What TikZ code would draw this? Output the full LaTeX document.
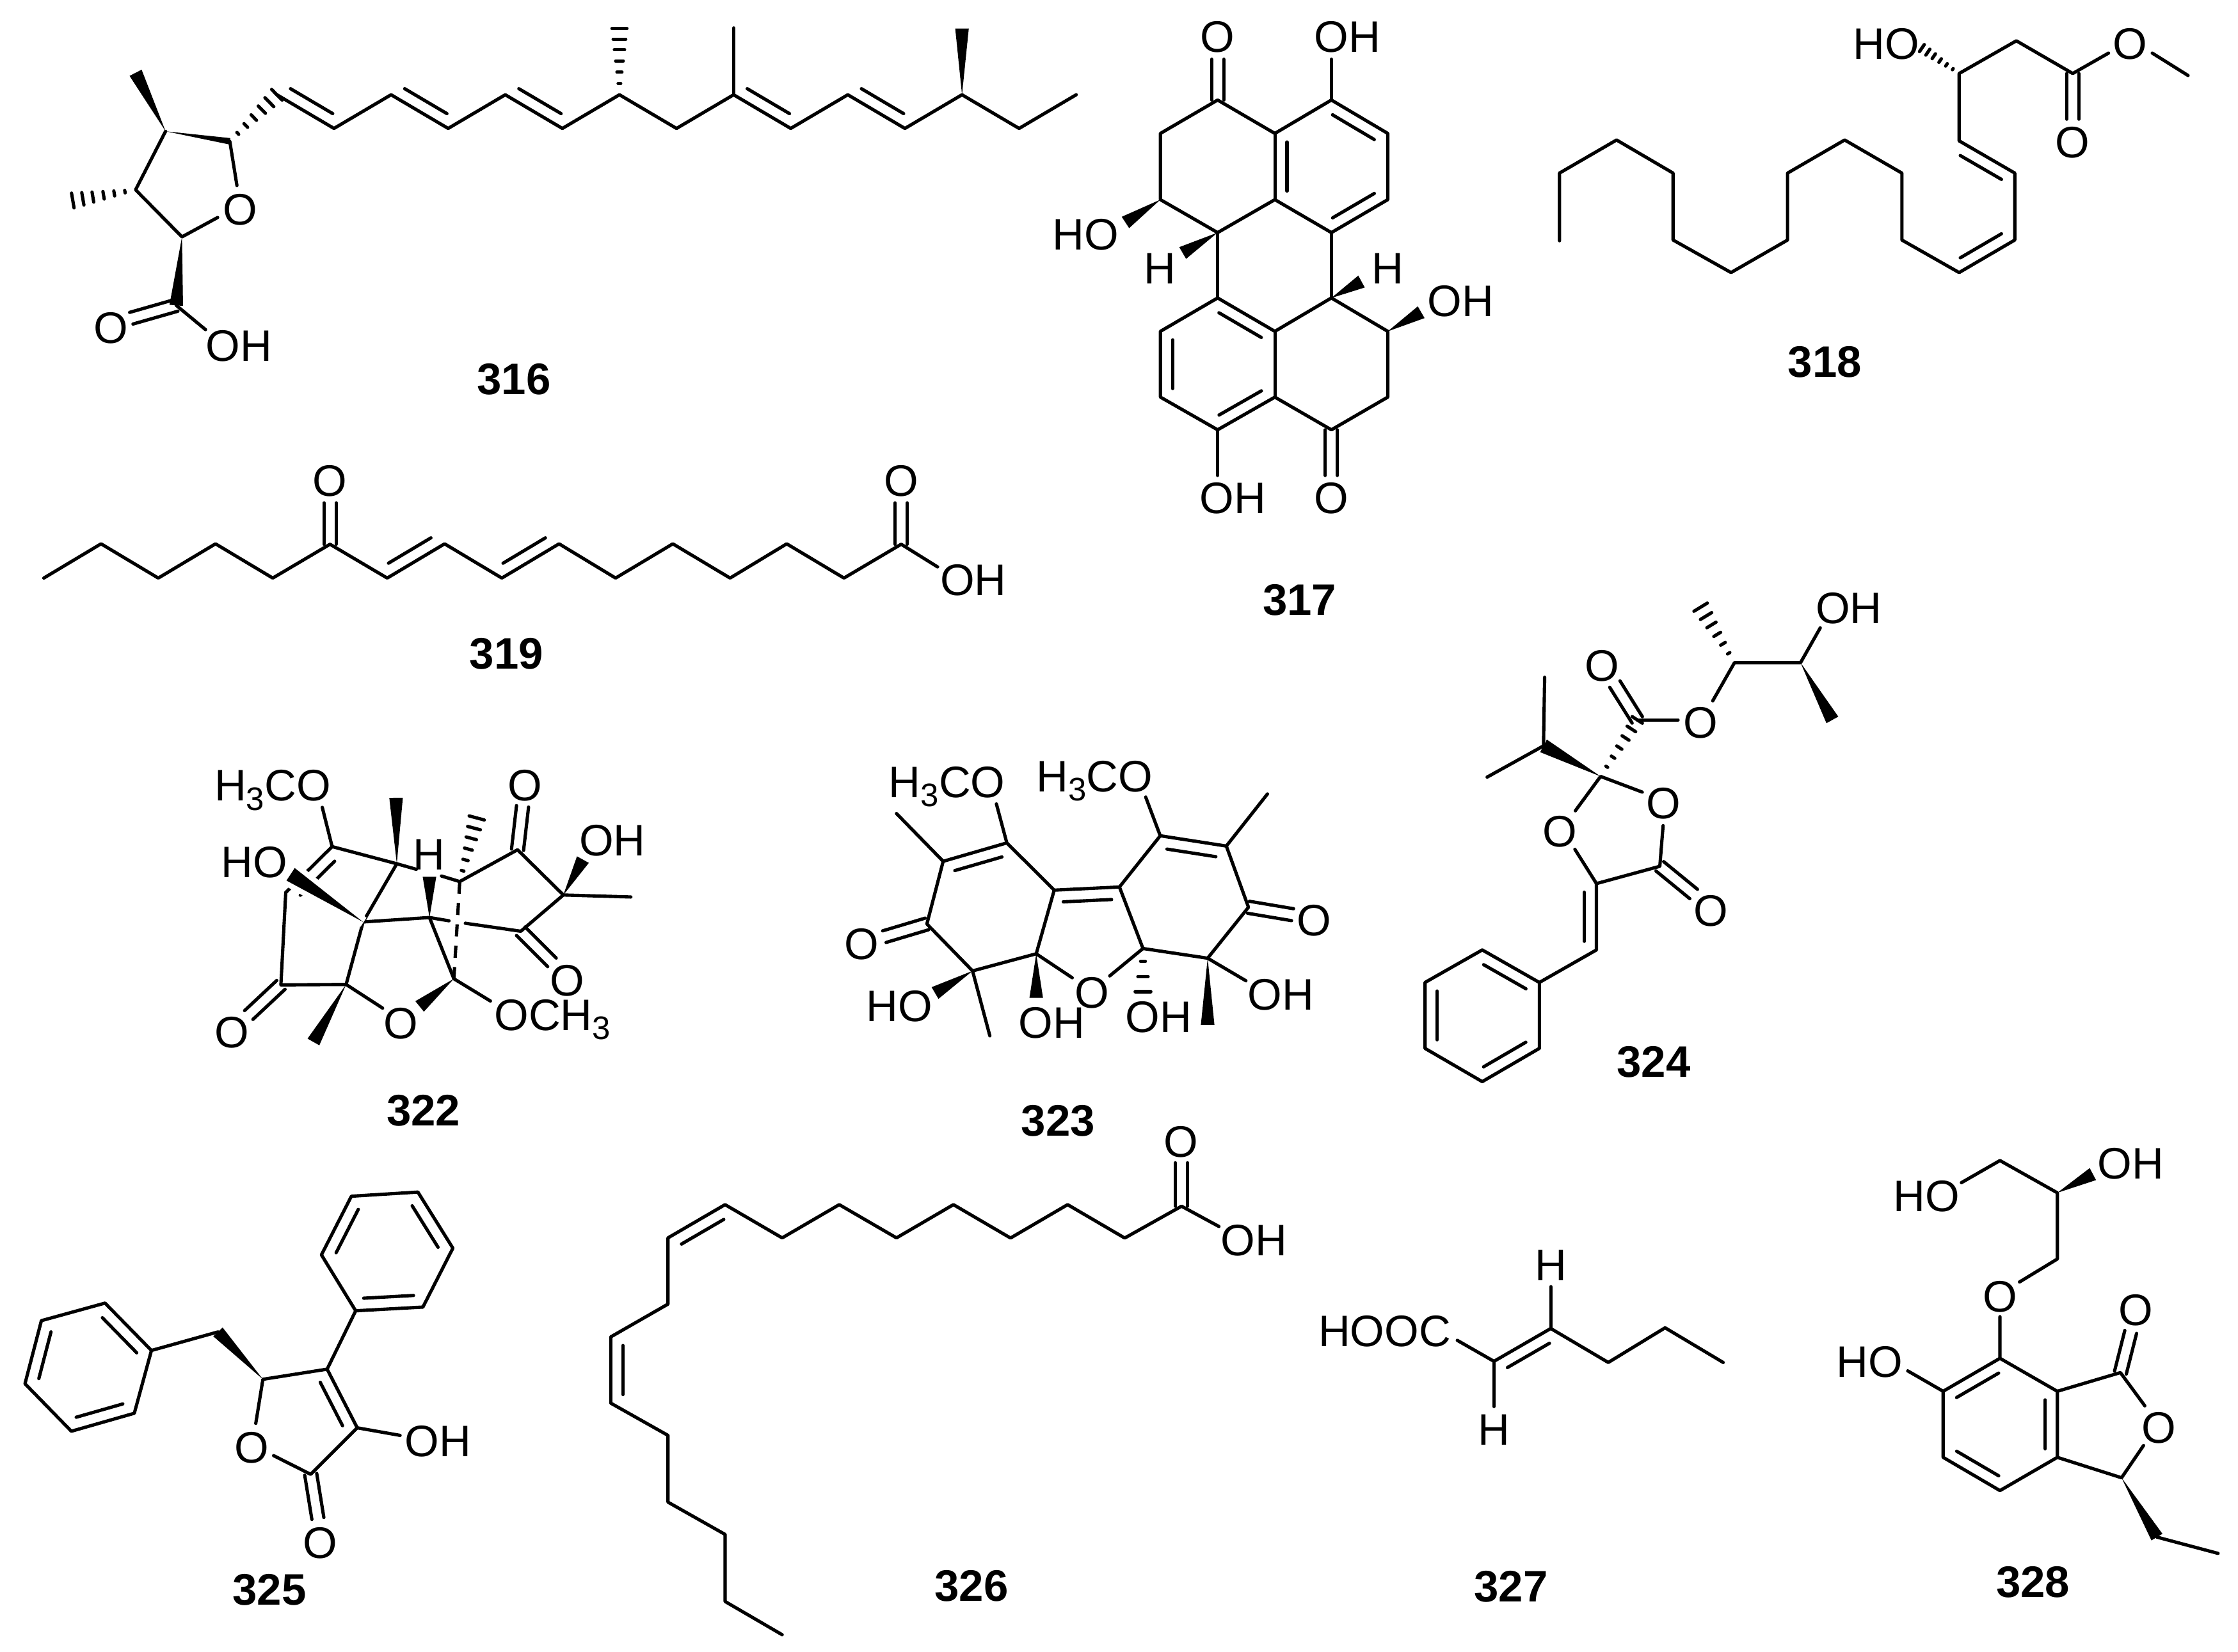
\documentclass[tikz,border=0pt]{standalone}
\usepackage{fontspec}
\setmainfont{Liberation Sans}
\usetikzlibrary{calc}

\tikzset{
  bond/.style={line width=.46mm,line cap=round,line join=round},
  atom/.style={inner sep=0pt,anchor=base,yshift=-2.3mm,font=\fontsize{17.6}{20}\selectfont},
  number/.style={atom,font=\fontsize{17.6}{20}\selectfont\bfseries}
}
\newcommand{\low}[1]{\raisebox{-1.27mm}{\fontsize{13}{13}\selectfont #1}}
\newcommand{\hashsteps}{.17,.34,.51,.68,.84,1}
% inner line of a double bond, on the left of the way from #2 to #3
\newcommand{\dblbond}[3][1.7mm]{\draw[bond] ($(#2)!.13!(#3)!#1!90:(#3)$) -- ($(#2)!.87!(#3)!#1!90:(#3)$);}
% two lines either side of the axis
\newcommand{\cobond}[3][.85mm]{
  \draw[bond] ($(#2)!#1!90:(#3)$) -- ($(#3)!#1!-90:(#2)$);
  \draw[bond] ($(#2)!#1!-90:(#3)$) -- ($(#3)!#1!90:(#2)$);}
\newcommand{\wedgebond}[3][.95mm]{\fill (#2) -- ($(#3)!#1!90:(#2)$) -- ($(#3)!#1!-90:(#2)$) -- cycle;}
\newcommand{\cutwedge}[3][1.05mm]{\fill[preaction={draw=white,line width=1.5mm}] (#2) -- ($(#3)!#1!90:(#2)$) -- ($(#3)!#1!-90:(#2)$) -- cycle;}
\newcommand{\hashbond}[3][1.05mm]{\foreach \t in \hashsteps {\draw[bond] ($(#2)!\t!(#3)!\t*#1!90:(#2)$) -- ($(#2)!\t!(#3)!\t*#1!-90:(#2)$);}}

\begin{document}
\begin{tikzpicture}[x=.2mm,y=-.2mm]
  \useasboundingbox (0,0) rectangle (1568,1157.3);

  % 316
  \foreach \n/\x/\y in {A1/116/92,A2/161/99,A3/166/130,A4/152.5/152.4,A5/127.5/166,A6/95/133,A7/95/51,A8/51/140.5,
    A10/194/66.4,A11/234/90,A12/274/66.4,A13/314/90,A14/354/66.4,A15/394/90,A16/434/66.4,A17/474/90,A18/514/66.4,
    A19/554/90,A20/594/66.4,A21/634/90,A22/674/66.4,A23/714/90,A24/754/66.4,A25/434/20,A26/514/19.6,A27/674/20,
    A29/123.5/214,A30/92/223,A31/144/231}
    {\coordinate (\n) at (\x,\y);}
  \draw[bond] (A2) -- (A3);
  \draw[bond] (A4) -- (A5) -- (A6) -- (A1);
  \draw[bond] (A10) -- (A11) -- (A12) -- (A13) -- (A14) -- (A15) -- (A16) -- (A17) -- (A18) -- (A19) -- (A20) -- (A21) -- (A22) -- (A23) -- (A24);
  \draw[bond] (A18) -- (A26);
  \draw[bond] (A29) -- (A31);
  \dblbond{A10}{A11} \dblbond{A12}{A13} \dblbond{A14}{A15} \dblbond{A18}{A19} \dblbond{A20}{A21}
  \cobond{A29}{A30}
  \wedgebond[.45mm]{A1}{A2}
  \wedgebond{A1}{A7}
  \wedgebond{A22}{A27}
  \wedgebond{A5}{A29}
  \hashbond{A6}{A8}
  \hashbond{A2}{A10}
  \hashbond{A16}{A25}
  \node[atom] (oA1) at (168.5,146) {O};
  \node[atom] (oA2) at (77.5,229) {O};
  \node[atom] (hA1) at (167.5,241.6) {OH};
  \node[number] (n316) at (360,265) {316};

  % 317
  \foreach \n/\x/\y in {B1/853.1/70.1,B2/893.2/93.5,B3/932.8/70.1,B4/972.3/93.5,B5/972.3/139.9,B6/932.8/163,B7/893.2/139.9,
    B8/853.1/163,B9/813/139.9,B10/813/93.5,B11/853.1/208.8,B12/932.8/208.8,B13/893.2/232.2,B14/972.3/232.2,B15/972.3/278.3,
    B16/932.8/301.2,B17/893.2/278.3,B18/853.1/301.2,B19/813/278.3,B20/813/232.2,B21/853.1/41.5,B22/932.8/41.5,
    B23/788.5/155.9,B24/828.6/177.3,B25/953.9/197.3,B26/995.7/218.8,B27/853.1/333.2,B28/932.8/333.2}
    {\coordinate (\n) at (\x,\y);}
  \draw[bond] (B1) -- (B2) -- (B3) -- (B4) -- (B5) -- (B6) -- (B7) -- (B8) -- (B9) -- (B10) -- cycle;
  \draw[bond] (B2) -- (B7);
  \draw[bond] (B3) -- (B22);
  \draw[bond] (B8) -- (B11);
  \draw[bond] (B6) -- (B12);
  \draw[bond] (B11) -- (B13) -- (B12) -- (B14) -- (B15) -- (B16) -- (B17) -- (B18) -- (B19) -- (B20) -- cycle;
  \draw[bond] (B13) -- (B17);
  \draw[bond] (B18) -- (B27);
  \dblbond{B4}{B3} \dblbond{B2}{B7} \dblbond{B6}{B5}
  \dblbond{B13}{B11} \dblbond{B20}{B19} \dblbond{B18}{B17}
  \cobond{B1}{B21}
  \cobond{B16}{B28}
  \wedgebond{B9}{B23}
  \wedgebond{B8}{B24}
  \wedgebond{B12}{B25}
  \wedgebond{B14}{B26}
  \node[atom] (oB1) at (853.1,25.2) {O};
  \node[atom] (hB1) at (943.9,25.2) {OH};
  \node[atom] (hB2) at (760.7,163.6) {HO};
  \node[atom] (tB1) at (812.5,187.3) {H};
  \node[atom] (tB2) at (972.3,187.3) {H};
  \node[atom] (hB3) at (1023.5,210.2) {OH};
  \node[atom] (hB4) at (863.7,348.3) {OH};
  \node[atom] (oB2) at (932.8,348.3) {O};
  \node[number] (n317) at (910.5,419.8) {317};

  % 318
  \foreach \n/\x/\y in {C1/1092.6/168.7,C2/1092.6/121.3,C3/1132.6/98.1,C4/1172.2/121.3,C5/1172.2/168.2,C6/1212.8/191,
    C7/1252.4/168.2,C8/1252.4/121.3,C9/1292.4/98.1,C10/1332.5/121.3,C11/1332.5/168.2,C12/1372.6/191,C13/1411.6/168.2,
    C14/1411.6/121.3,C15/1372.6/98.7,C16/1372.6/51.5,C17/1412.7/28.6,C18/1452.2/51.5,C19/1477.3/37.2,C20/1507.9/37.2,
    C21/1533/52.9,C22/1452.2/83.5,C23/1346.5/33.7}
    {\coordinate (\n) at (\x,\y);}
  \draw[bond] (C1) -- (C2) -- (C3) -- (C4) -- (C5) -- (C6) -- (C7) -- (C8) -- (C9) -- (C10) -- (C11) -- (C12) -- (C13) -- (C14) -- (C15) -- (C16) -- (C17) -- (C18) -- (C19);
  \draw[bond] (C20) -- (C21);
  \dblbond{C12}{C13} \dblbond{C14}{C15}
  \cobond{C18}{C22}
  \hashbond[.6mm]{C16}{C23}
  \node[atom] (hC1) at (1321.4,30) {HO};
  \node[atom] (oC1) at (1492.3,30) {O};
  \node[atom] (oC2) at (1452.2,99.2) {O};
  \node[number] (n318) at (1278.5,253) {318};

  % 319
  \foreach \n/\x/\y in {D1/30.7/405.1,D2/70.8/381.1,D3/110.9/405.1,D4/151/381.1,D5/191.1/405.1,D6/231.2/381.4,D7/271.3/405.1,
    D8/311.5/381.1,D9/351.6/405.1,D10/391.7/381.1,D11/431.3/405.1,D12/471.4/381.1,D13/511.5/405.1,D14/551.2/381.1,
    D15/591.3/405.1,D16/631.4/381.4,D17/656.9/397.3,D18/231.2/352.4,D19/631.4/352.4}
    {\coordinate (\n) at (\x,\y);}
  \draw[bond] (D1) -- (D2) -- (D3) -- (D4) -- (D5) -- (D6) -- (D7) -- (D8) -- (D9) -- (D10) -- (D11) -- (D12) -- (D13) -- (D14) -- (D15) -- (D16) -- (D17);
  \dblbond{D7}{D8} \dblbond{D9}{D10}
  \cobond{D6}{D18}
  \cobond{D16}{D19}
  \node[atom] (oD1) at (231.2,336.3) {O};
  \node[atom] (oD2) at (631.4,336.3) {O};
  \node[atom] (hD1) at (681.9,405.8) {OH};
  \node[number] (n319) at (354.9,457.4) {319};

  % 322
  \foreach \n/\x/\y in {E1/232.7/593.3,E2/278/605.3,E3/200.2/625.5,E4/322.1/617.8,E5/300.9/643,E6/362.6/595.5,E7/394.7/627.2,
    E8/364.9/652.6,E9/254.4/646.1,E10/242.5/689.9,E11/196.8/690.2,E12/318/685.9,E13/225.8/565.8,E14/291.7/609.2,E15/309.3/613.9,
    E16/314.6/645.3,E17/326/647,E18/174.3/711.3,E19/268.1/706.5,E20/294/705.3,E21/343.6/701.5,E22/334/573.2,E23/277.5/559.1,
    E24/203.6/612.7,E25/366.1/565.1,E26/408.4/602.4,E27/442/628.6,E28/386.7/674.4,E29/219.6/730.2,E30/300.9/614.4}
    {\coordinate (\n) at (\x,\y);}
  \draw[bond] (E13) -- (E1) -- (E2) -- (E14);
  \draw[bond] (E15) -- (E4) -- (E6) -- (E7) -- (E8) -- (E17);
  \draw[bond] (E16) -- (E5) -- (E9) -- (E2);
  \draw[bond] (E9) -- (E10) -- (E11) -- (E3);
  \draw[bond] (E1) -- (E3);
  \draw[bond] (E10) -- (E19);
  \draw[bond] (E5) -- (E12) -- (E21);
  \draw[bond] (E7) -- (E27);
  \draw[bond,dash pattern=on 1.7mm off 1.3mm,line cap=butt] (E4) -- (E12);
  \dblbond{E1}{E3}
  \cobond{E11}{E18}
  \cobond{E6}{E25}
  \cobond{E8}{E28}
  \cutwedge{E9}{E24}
  \wedgebond{E2}{E23}
  \wedgebond{E5}{E30}
  \wedgebond{E12}{E20}
  \wedgebond{E7}{E26}
  \wedgebond{E10}{E29}
  \hashbond[1.1mm]{E4}{E22}
  \node[atom] (mE1) at (191,549.8) {H\low{3}CO};
  \node[atom] (hE1) at (178,603.4) {HO};
  \node[atom] (tE1) at (300.4,598.1) {H};
  \node[atom] (oE1) at (367.9,549.7) {O};
  \node[atom] (hE2) at (429,588.1) {OH};
  \node[atom] (oE2) at (397.6,686.4) {O};
  \node[atom] (mE2) at (387.1,710.5) {OCH\low{3}};
  \node[atom] (oE3) at (281,716.5) {O};
  \node[atom] (oE4) at (162.4,722.8) {O};
  \node[number] (n322) at (296.7,777.5) {322};

  % 323
  \foreach \n/\x/\y in {F1/660.8/603.6,F2/705.4/590.7,F3/738.6/623.8,F4/784.3/621.6,F5/812.9/585.7,F6/859.2/592.9,F7/874.7/635.8,
    F8/846.1/671.5,F9/800.8/664.7,F10/726/668.4,F11/681.4/680.4,F12/649.4/647.5,F13/751.2/685.2,F14/777.5/683.9,F15/619.6/656.4,
    F16/905.6/641,F17/628.1/570.1,F18/888/556.4,F19/698.1/563.4,F20/802.7/558.6,F21/655.1/695.9,F22/693.5/725.9,F23/726/699.3,
    F24/800.8/695,F25/846.1/718.2,F26/872.9/687.3}
    {\coordinate (\n) at (\x,\y);}
  \draw[bond] (F1) -- (F2) -- (F3) -- (F4) -- (F5) -- (F6) -- (F7) -- (F8) -- (F9) -- (F4);
  \draw[bond] (F3) -- (F10) -- (F11) -- (F12) -- (F1);
  \draw[bond] (F10) -- (F13);
  \draw[bond] (F9) -- (F14);
  \draw[bond] (F1) -- (F17);
  \draw[bond] (F6) -- (F18);
  \draw[bond] (F2) -- (F19);
  \draw[bond] (F5) -- (F20);
  \draw[bond] (F11) -- (F22);
  \draw[bond] (F8) -- (F26);
  \dblbond{F2}{F1} \dblbond{F4}{F3} \dblbond{F6}{F5}
  \cobond{F12}{F15}
  \cobond{F7}{F16}
  \wedgebond{F11}{F21}
  \wedgebond{F10}{F23}
  \wedgebond{F8}{F25}
  \renewcommand{\hashsteps}{.3,.65,1}
  \hashbond[1.1mm]{F9}{F24}
  \renewcommand{\hashsteps}{.17,.34,.51,.68,.84,1}
  \node[atom] (mF1) at (663.5,547.4) {H\low{3}CO};
  \node[atom] (mF2) at (767,543.5) {H\low{3}CO};
  \node[atom] (oF1) at (603.6,661) {O};
  \node[atom] (oF2) at (920.5,644.4) {O};
  \node[atom] (oF3) at (764.9,694.7) {O};
  \node[atom] (hF1) at (630.1,704.5) {HO};
  \node[atom] (hF2) at (737,715.8) {OH};
  \node[atom] (hF3) at (811.8,712) {OH};
  \node[atom] (hF4) at (897.4,696.2) {OH};
  \node[number] (n323) at (741.4,784.8) {323};

  % 324
  \foreach \n/\x/\y in {G1/1121.4/544.1,G2/1103.7/568.2,G3/1150.6/555.1,G4/1118.5/619.2,G5/1103.4/595.2,G6/1162.9/607.1,G7/1165.2/578.6,
    G8/1186.6/626.5,G9/1118.5/665.7,G10/1078.5/688.5,G11/1038.5/665.7,G12/998.4/688.5,G13/998.4/734.7,G14/1038.5/758,G15/1078.5/734.7,
    G16/1081.4/522.7,G17/1082.2/474.6,G18/1041.9/544.6,G19/1147.1/504.5,G20/1131.4/479.4,G21/1175.7/504.5,G22/1200/491.1,
    G23/1215.2/464.4,G24/1261.5/464.4,G25/1191.5/425.5,G26/1275.3/440,G27/1283.8/504.5}
    {\coordinate (\n) at (\x,\y);}
  \draw[bond] (G2) -- (G1) -- (G3);
  \draw[bond] (G5) -- (G4) -- (G6) -- (G7);
  \draw[bond] (G4) -- (G9) -- (G10) -- (G11) -- (G12) -- (G13) -- (G14) -- (G15) -- (G10);
  \draw[bond] (G17) -- (G16) -- (G18);
  \draw[bond] (G19) -- (G21);
  \draw[bond] (G22) -- (G23) -- (G24) -- (G26);
  \dblbond{G9}{G4}
  \dblbond{G10}{G11} \dblbond{G12}{G13} \dblbond{G14}{G15}
  \cobond{G6}{G8}
  \cobond{G19}{G20}
  \wedgebond[1mm]{G1}{G16}
  \wedgebond{G24}{G27}
  \hashbond[.85mm]{G1}{G19}
  \hashbond[1.1mm]{G23}{G25}
  \node[atom] (oG1) at (1092.8,581.8) {O};
  \node[atom] (oG2) at (1165.4,562.1) {O};
  \node[atom] (oG3) at (1198.6,637.5) {O};
  \node[atom] (oG4) at (1122.3,465.6) {O};
  \node[atom] (oG5) at (1191.5,505.7) {O};
  \node[atom] (hG1) at (1295.3,425.5) {OH};
  \node[number] (n324) at (1158.6,743.5) {324};

  % 325
  \foreach \n/\x/\y in {H1/184.2/966.6,H2/229.2/959.5,H3/250.3/1000.6,H4/217.7/1033.2,H5/179.2/997.5,H6/191.7/1020.1,H7/280.3/1005.9,
    H8/222.7/1064.1,H9/152.7/933.4,H10/106.1/946.4,H11/73.6/913.2,H12/29/925.5,H13/17.5/969.7,H14/50/1003,H15/94.1/990.4,
    H16/249.2/918.6,H17/296.3/916,H18/317.3/874.7,H19/292.8/835.4,H20/246.2/838.3,H21/225.2/879.4}
    {\coordinate (\n) at (\x,\y);}
  \draw[bond] (H5) -- (H1) -- (H2) -- (H3) -- (H4) -- (H6);
  \draw[bond] (H3) -- (H7);
  \draw[bond] (H9) -- (H10) -- (H11) -- (H12) -- (H13) -- (H14) -- (H15) -- (H10);
  \draw[bond] (H2) -- (H16) -- (H17) -- (H18) -- (H19) -- (H20) -- (H21) -- (H16);
  \dblbond{H3}{H2}
  \dblbond{H10}{H11} \dblbond{H12}{H13} \dblbond{H14}{H15}
  \dblbond{H16}{H17} \dblbond{H18}{H19} \dblbond{H20}{H21}
  \cobond{H4}{H8}
  \wedgebond[.9mm]{H1}{H9}
  \node[atom] (oH1) at (176.2,1013.5) {O};
  \node[atom] (hH1) at (306.8,1009.4) {OH};
  \node[atom] (oH2) at (224.2,1080.7) {O};
  \node[number] (n325) at (188.7,1113.3) {325};

  % 326
  \foreach \n/\x/\y in {J1/548/1145.6,J2/508/1122.3,J3/508/1075.3,J4/468/1052.7,J5/468/1005.9,J6/427.9/983.3,J7/427.9/936.9,J8/468/913.9,
    J9/468/867.5,J10/508/844.2,J11/548/867.5,J12/588/844.2,J13/628.1/867.5,J14/668/844.2,J15/708/867.6,J16/748/844.2,J17/788/867.6,
    J18/827.8/845.3,J19/854/859.5,J20/827.8/814.9}
    {\coordinate (\n) at (\x,\y);}
  \draw[bond] (J1) -- (J2) -- (J3) -- (J4) -- (J5) -- (J6) -- (J7) -- (J8) -- (J9) -- (J10) -- (J11) -- (J12) -- (J13) -- (J14) -- (J15) -- (J16) -- (J17) -- (J18) -- (J19);
  \dblbond{J10}{J9} \dblbond{J7}{J6}
  \cobond{J18}{J20}
  \node[atom] (oJ1) at (827.4,799.2) {O};
  \node[atom] (hJ1) at (878.5,868.5) {OH};
  \node[number] (n326) at (680.7,1110.4) {326};

  % 327
  \foreach \n/\x/\y in {K1/1021/939.3,K2/1046.7/954,K3/1086.5/931,K4/1126.8/954.8,K5/1166.6/930.5,K6/1207.3/954.8,K7/1086.5/901.7,K8/1046.7/985.7}
    {\coordinate (\n) at (\x,\y);}
  \draw[bond] (K1) -- (K2) -- (K3) -- (K4) -- (K5) -- (K6);
  \draw[bond] (K3) -- (K7);
  \draw[bond] (K2) -- (K8);
  \dblbond{K3}{K2}
  \node[atom] (cK1) at (970.1,932.2) {HOOC};
  \node[atom] (tK1) at (1086.5,885.8) {H};
  \node[atom] (tK2) at (1046.7,1001.1) {H};
  \node[number] (n327) at (1058.7,1110.9) {327};

  % 328
  \foreach \n/\x/\y in {L1/1374.2/828.8,L2/1401.2/813.3,L3/1441.4/835.9,L4/1466.3/822.8,L5/1441.4/882.3,L6/1414.9/898.4,L7/1401.2/922.7,
    L8/1401.2/951.9,L9/1441.4/975,L10/1441.4/1021.3,L11/1401.2/1044.6,L12/1361.4/1021.3,L13/1361.4/975,L14/1336.6/960.7,
    L15/1485.6/961.9,L16/1492.8/933.4,L17/1502.7/985.2,L18/1501.8/1013,L19/1486.4/1035.6,L20/1511.2/1077.2,L21/1554/1088.6}
    {\coordinate (\n) at (\x,\y);}
  \draw[bond] (L1) -- (L2) -- (L3) -- (L5) -- (L6);
  \draw[bond] (L7) -- (L8) -- (L9) -- (L10) -- (L11) -- (L12) -- (L13) -- (L8);
  \draw[bond] (L13) -- (L14);
  \draw[bond] (L9) -- (L15) -- (L17);
  \draw[bond] (L18) -- (L19) -- (L10);
  \draw[bond] (L20) -- (L21);
  \dblbond{L8}{L13} \dblbond{L12}{L11} \dblbond{L10}{L9}
  \cobond{L15}{L16}
  \wedgebond{L3}{L4}
  \wedgebond[.9mm]{L19}{L20}
  \node[atom] (hL1) at (1349.8,837.6) {HO};
  \node[atom] (hL2) at (1492.8,814.5) {OH};
  \node[atom] (oL1) at (1401.2,907.9) {O};
  \node[atom] (hL3) at (1310,953.6) {HO};
  \node[atom] (oL2) at (1496.2,917.2) {O};
  \node[atom] (oL3) at (1512.5,999.9) {O};
  \node[number] (n328) at (1424.3,1108) {328};
\end{tikzpicture}
\end{document}
